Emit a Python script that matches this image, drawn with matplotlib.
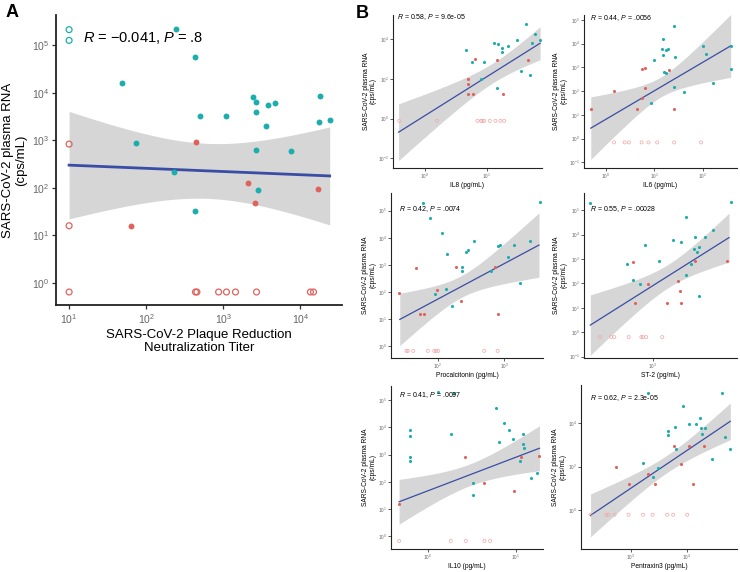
import numpy as np
import matplotlib
matplotlib.use('Agg')
import matplotlib.pyplot as plt
from matplotlib.ticker import LogFormatterSciNotation, NullLocator

plt.rcParams['font.family'] = ['Liberation Sans', 'DejaVu Sans']
plt.rcParams['mathtext.fontset'] = 'custom'
plt.rcParams['mathtext.rm'] = 'Liberation Sans'
plt.rcParams['mathtext.it'] = 'Liberation Sans:italic'

# ---- Panel A: plaque reduction neutralization titer ----
a_teal_x = [245, 433, 49, 492, 1070, 2460, 2640, 2670, 3530, 3800, 4650, 17800, 17400, 24000, 74, 2620, 7600, 230, 2800, 425]
a_teal_y = [2.2e5, 5.7e4, 1.6e4, 3300, 3300, 8200, 6300, 3900, 2000, 5400, 6000, 8300, 2450, 2700, 860, 630, 600, 215, 91, 32]
a_red_x = [445, 2100, 2560, 17000, 64]
a_red_y = [910, 126, 48, 96, 16]
a_open_red_x = [10, 10, 10, 436, 455, 870, 1100, 1440, 2700, 13500, 14800]
a_open_red_y = [830, 16, 0.65, 0.65, 0.65, 0.65, 0.65, 0.65, 0.65, 0.65, 0.65]
a_open_teal_x = [10, 10]
a_open_teal_y = [2.1e5, 1.25e5]
# fitted line (ends), band bounds at left end, band bounds at its narrowest point
a_fit_x = [10, 24000]
a_fit_y = [300, 178]
a_band_left = [22, 3980]
a_band_mid_x = 630
a_band_mid = [58, 830]

# ---- Panel B: IL8 ----
il8_teal_x = [20.9, 30.9, 42.7, 58.9, 72.4, 30.2, 53.7, 13.2, 15.1, 17.4, 17.4, 22.4, 4.57, 5.75, 8.9, 35.5, 50.1, 7.94, 14.8]
il8_teal_y = [2.3e5, 2.2e5, 5.9e4, 1.8e4, 8900, 8900, 6300, 6800, 5800, 3800, 2200, 4500, 2900, 690, 690, 257, 162, 105, 35]
il8_red_x = [6.5, 14.5, 4.9, 4.9, 4.9, 6.0, 18.2, 45.7]
il8_red_y = [1020, 910, 105, 55, 18, 18, 18, 910]
il8_open_x = [0.39, 1.58, 7.1, 8.1, 8.5, 9.1, 11.2, 13.8, 16.6, 19.1]
il8_open_y = [0.78] * 10
il8_fit_x = [0.38, 72.4]
il8_fit_y = [0.21, 6300]
il8_band_left = [0.0079, 5.6]
il8_band_mid_x = 12.6
il8_band_mid = [35, 347]

# ---- IL6 ----
il6_teal_x = [22.9, 36.3, 25.7, 15.1, 14.5, 17.4, 19.1, 15.5, 10.0, 27.5, 100, 120, 380, 380, 15.8, 17.8, 162, 25.7, 40.7, 8.5]
il6_teal_y = [2.0e5, 2.1e5, 5.8e4, 1.55e4, 6200, 5500, 5900, 3200, 2000, 2700, 8300, 3800, 8300, 870, 630, 600, 224, 148, 93, 33]
il6_red_x = [5.5, 6.5, 20.4, 1.48, 6.5, 5.5, 0.49, 4.47, 25.1]
il6_red_y = [870, 930, 810, 98, 132, 49, 17, 17, 17]
il6_open_x = [1.48, 2.45, 3.0, 5.5, 7.6, 11.5, 25.7, 93]
il6_open_y = [0.69] * 8
il6_fit_x = [0.49, 380]
il6_fit_y = [2.75, 8100]
il6_band_left = [0.13, 56]
il6_band_mid_x = 13.5
il6_band_mid = [43, 302]

# ---- Procalcitonin ----
pct_teal_x = [60, 3390, 78, 115, 347, 138, 263, 288, 794, 871, 1410, 2450, 1120, 229, 234, 631, 1740, 135, 91, 162]
pct_teal_y = [1.9e5, 2.0e5, 5.2e4, 1.5e4, 7600, 2500, 3100, 3500, 5000, 5600, 5500, 7400, 1900, 830, 590, 590, 209, 135, 87, 30]
pct_red_x = [47, 186, 724, 26, 98, 224, 55, 63, 794]
pct_red_y = [780, 830, 850, 89, 120, 45, 16, 16, 16]
pct_open_x = [34, 35.5, 43, 71, 89, 95, 102, 500, 794]
pct_open_y = [0.68] * 9
pct_fit_x = [27, 3310]
pct_fit_y = [9.8, 5400]
pct_band_left = [1.15, 98]
pct_band_mid_x = 224
pct_band_mid = [63, 400]

# ---- ST-2 ----
st2_teal_x = [407, 3090, 1620, 2400, 2140, 1860, 1350, 1510, 891, 1950, 1820, 1910, 1100, 692, 1740, 759, 832, 1620, 1950]
st2_teal_y = [1.95e5, 2.1e5, 5.4e4, 1.5e4, 7800, 7800, 5800, 5000, 3700, 3200, 2600, 1900, 810, 620, 620, 141, 91, 214, 31]
st2_red_x = [759, 1860, 2950, 933, 1450, 1480, 776, 1230, 1510]
st2_red_y = [790, 850, 810, 93, 123, 47, 16, 16, 16]
st2_open_x = [468, 550, 575, 708, 851, 871, 912, 1150]
st2_open_y = [0.63] * 8
st2_fit_x = [407, 3020]
st2_fit_y = [1.95, 7600]
st2_band_left = [0.166, 50]
st2_band_mid_x = 1260
st2_band_mid = [68, 620]

# ---- IL10 ----
il10_teal_x = [1.29, 2.0, 5.9, 7.4, 8.3, 0.63, 0.63, 1.82, 12.0, 6.5, 9.3, 12.0, 12.3, 0.63, 0.63, 11.2, 17.4, 14.8, 3.3, 3.3]
il10_teal_y = [1.95e5, 1.86e5, 5.0e4, 1.45e4, 7600, 7900, 4900, 5800, 5500, 3000, 3600, 2500, 1800, 790, 600, 600, 214, 141, 89, 32]
il10_red_x = [2.63, 11.5, 18.6, 4.4, 9.5, 0.47]
il10_red_y = [780, 780, 870, 93, 47, 16]
il10_open_x = [0.47, 1.82, 2.7, 4.4, 5.1]
il10_open_y = [0.69] * 5
il10_fit_x = [0.47, 18.6]
il10_fit_y = [18.6, 1700]
il10_band_left = [2.95, 129]
il10_band_mid_x = 2.95
il10_band_mid = [71, 447]

# ---- Pentraxin3 ----
ptx_teal_x = [2040, 43600, 8510, 17000, 11000, 14500, 6310, 21400, 17800, 4680, 4680, 18600, 49000, 6460, 60300, 28800, 1660, 3020, 2450]
ptx_teal_y = [2.3e5, 2.3e5, 6.0e4, 1.7e4, 8900, 8900, 6600, 5900, 5800, 4100, 2900, 3300, 2200, 660, 620, 219, 148, 89, 32]
ptx_red_x = [5890, 11000, 20400, 550, 7760, 2040, 933, 2690, 12900]
ptx_red_y = [870, 870, 930, 98, 129, 48, 15.5, 15.5, 15.5]
ptx_open_x = [191, 363, 398, 513, 912, 1660, 2450, 4470, 5750, 10200]
ptx_open_y = [0.63] * 10
ptx_fit_x = [191, 60300]
ptx_fit_y = [0.59, 12000]
ptx_band_left = [0.074, 6.8]
ptx_band_mid_x = 4470
ptx_band_mid = [54, 340]

TEAL = '#1CADAD'
RED = '#E0625C'
PALE = '#F2A9A7'
BAND = '#D6D6D6'
LINE = '#3A4DA5'
W, H = 740, 572


def rect(left, top, right, bottom):
    return [left / W, 1 - bottom / H, (right - left) / W, (bottom - top) / H]


def smooth_band(fit_x, fit_y, band_left, mid_x, band_mid):
    # straight lm line in log-log space; band widens like an lm confidence interval
    lx0, lx1 = np.log10(fit_x)
    ly0, ly1 = np.log10(fit_y)
    slope = (ly1 - ly0) / (lx1 - lx0)
    h_left = np.diff(np.log10(band_left))[0] / 2
    h_mid = np.diff(np.log10(band_mid))[0] / 2
    xm = np.log10(mid_x)
    k = np.sqrt(max(h_left ** 2 - h_mid ** 2, 0)) / abs(xm - lx0)
    grid = np.linspace(lx0, lx1, 120)
    fit = ly0 + slope * (grid - lx0)
    half = np.sqrt(h_mid ** 2 + (k * (grid - xm)) ** 2)
    return 10 ** grid, 10 ** fit, 10 ** (fit - half), 10 ** (fit + half)


def style_axis(ax, xlim, ylim, yticks, tick_fs, spine_w, tick_len, pad):
    ax.set_xscale('log')
    ax.set_yscale('log')
    ax.set_xlim(10 ** xlim[0], 10 ** xlim[1])
    ax.set_ylim(10 ** ylim[0], 10 ** ylim[1])
    ax.set_yticks([10.0 ** k for k in yticks])
    ax.xaxis.set_minor_locator(NullLocator())
    ax.yaxis.set_minor_locator(NullLocator())
    ax.xaxis.set_major_formatter(LogFormatterSciNotation())
    ax.yaxis.set_major_formatter(LogFormatterSciNotation())
    for side in ['top', 'right']:
        ax.spines[side].set_visible(False)
    for side in ['left', 'bottom']:
        ax.spines[side].set_linewidth(spine_w)
        ax.spines[side].set_color('#222222')
    ax.tick_params(labelsize=tick_fs, labelcolor='#666666', color='#333333',
                   length=tick_len, width=spine_w * 0.7, pad=pad)


def draw_layers(ax, band, x_teal, y_teal, x_red, y_red, x_open, y_open, s, lw, open_col):
    ax.fill_between(band[0], band[2], band[3], color=BAND, lw=0, zorder=1)
    ax.plot(band[0], band[1], color=LINE, lw=lw, zorder=2)
    ax.scatter(x_teal, y_teal, s=s, color=TEAL, lw=0, zorder=3)
    ax.scatter(x_red, y_red, s=s, color=RED, lw=0, zorder=3)
    ax.scatter(x_open, y_open, s=s, facecolors='none', edgecolors=open_col,
               lw=lw * 0.35 + 0.2, zorder=3)


fig = plt.figure(figsize=(7.4, 5.72), dpi=100)

# ---------- Panel A ----------
ax = fig.add_axes(rect(56, 15, 342, 305))
band = smooth_band(a_fit_x, a_fit_y, a_band_left, a_band_mid_x, a_band_mid)
draw_layers(ax, band, a_teal_x, a_teal_y, a_red_x, a_red_y, a_open_red_x, a_open_red_y, 18, 2.0, RED)
ax.scatter(a_open_teal_x, a_open_teal_y, s=18, facecolors='none', edgecolors=TEAL, lw=0.9, zorder=3)
style_axis(ax, (0.83, 4.54), (-0.46, 5.63), range(0, 6), 7.5, 1.3, 3, 2)
ax.set_xlabel('SARS-CoV-2 Plaque Reduction\nNeutralization Titer', fontsize=9.5, labelpad=2, linespacing=1.15)
ax.set_ylabel('SARS-CoV-2 plasma RNA\n(cps/mL)', fontsize=9.5, labelpad=3, linespacing=1.1)
ax.text(0.094, 0.92, '$\\it{R}$ = \u22120.041, $\\it{P}$ = .8', transform=ax.transAxes,
        fontsize=10.5, va='center', ha='left')

fig.text(6 / W, 1 - 4 / H, 'A', fontsize=13, weight='bold', va='top', ha='left')
fig.text(356 / W, 1 - 5 / H, 'B', fontsize=13, weight='bold', va='top', ha='left')

# ---------- Panel B ----------
panels = [
    (rect(393, 15, 542, 168), il8_teal_x, il8_teal_y, il8_red_x, il8_red_y, il8_open_x, il8_open_y,
     (il8_fit_x, il8_fit_y, il8_band_left, il8_band_mid_x, il8_band_mid),
     (-0.51, 1.89), (-2.48, 5.22), [-2, 0, 2, 4], 'IL8 (pg/mL)', ('0.58', '9.6e-05'), (0.03, 0.985)),
    (rect(584, 15, 737, 168), il6_teal_x, il6_teal_y, il6_red_x, il6_red_y, il6_open_x, il6_open_y,
     (il6_fit_x, il6_fit_y, il6_band_left, il6_band_mid_x, il6_band_mid),
     (-0.45, 2.71), (-1.24, 5.21), range(-1, 6), 'IL6 (pg/mL)', ('0.44', '.0056'), (0.04, 0.98)),
    (rect(391, 193, 543, 358), pct_teal_x, pct_teal_y, pct_red_x, pct_red_y, pct_open_x, pct_open_y,
     (pct_fit_x, pct_fit_y, pct_band_left, pct_band_mid_x, pct_band_mid),
     (1.30, 3.58), (-0.43, 5.65), range(0, 6), 'Procalcitonin (pg/mL)', ('0.42', '.0074'), (0.05, 0.90)),
    (rect(584, 193, 737, 358), st2_teal_x, st2_teal_y, st2_red_x, st2_red_y, st2_open_x, st2_open_y,
     (st2_fit_x, st2_fit_y, st2_band_left, st2_band_mid_x, st2_band_mid),
     (2.57, 3.53), (-1.06, 5.71), range(-1, 6), 'ST-2 (pg/mL)', ('0.55', '.00028'), (0.04, 0.90)),
    (rect(391, 386, 543, 549), il10_teal_x, il10_teal_y, il10_red_x, il10_red_y, il10_open_x, il10_open_y,
     (il10_fit_x, il10_fit_y, il10_band_left, il10_band_mid_x, il10_band_mid),
     (-0.42, 1.31), (-0.46, 5.51), range(0, 6), 'IL10 (pg/mL)', ('0.41', '.0097'), (0.05, 0.945)),
    (rect(581, 385, 737, 549), ptx_teal_x, ptx_teal_y, ptx_red_x, ptx_red_y, ptx_open_x, ptx_open_y,
     (ptx_fit_x, ptx_fit_y, ptx_band_left, ptx_band_mid_x, ptx_band_mid),
     (2.11, 4.90), (-1.77, 5.74), [0, 2, 4], 'Pentraxin3 (pg/mL)', ('0.62', '2.3e-05'), (0.06, 0.92)),
]

for (r, tx, ty, rx, ry, ox, oy, fit_args, xl, yl, yt, xlabel, (r_val, p_val), npos) in panels:
    ax = fig.add_axes(r)
    band = smooth_band(*fit_args)
    draw_layers(ax, band, tx, ty, rx, ry, ox, oy, 5, 0.9, PALE)
    style_axis(ax, xl, yl, yt, 3.4, 0.8, 2, 1)
    ax.set_xlabel(xlabel, fontsize=4.8, labelpad=0.5)
    ax.set_ylabel('SARS-CoV-2 plasma RNA\n(cps/mL)', fontsize=4.8, labelpad=1, linespacing=1.0)
    ax.text(npos[0], npos[1], '$\\it{R}$ = ' + r_val + ', $\\it{P}$ = ' + p_val,
            transform=ax.transAxes, fontsize=5, va='center', ha='left')

fig.savefig('out.png', dpi=100)
